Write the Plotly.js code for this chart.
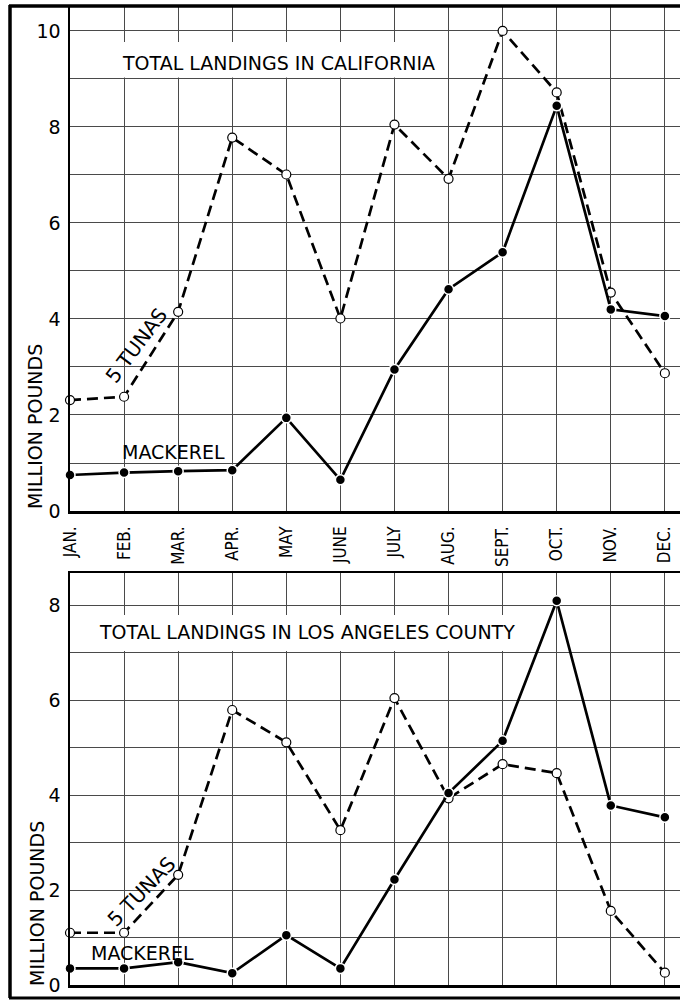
<!DOCTYPE html>
<html>
<head>
<meta charset="utf-8">
<script src="https://cdn.plot.ly/plotly-3.0.1.min.js"></script>
<style>html,body{margin:0;padding:0;background:#fff;}#chart{width:680px;height:1000px;}</style>
</head>
<body>
<div id="chart"></div>
<script>
// ---- data ----
const months = ['JAN.','FEB.','MAR.','APR.','MAY','JUNE','JULY','AUG.','SEPT.','OCT.','NOV.','DEC.'];
const caTunas    = [2.31, 2.38, 4.15, 7.78, 7.01, 4.01, 8.05, 6.92, 10.0, 8.72, 4.55, 2.87];
const caMackerel = [0.75, 0.80, 0.83, 0.85, 1.94, 0.65, 2.95, 4.62, 5.39, 8.44, 4.20, 4.06];
const laTunas    = [1.10, 1.10, 2.32, 5.79, 5.11, 3.26, 6.04, 3.93, 4.65, 4.46, 1.56, 0.26];
const laMackerel = [0.35, 0.35, 0.48, 0.25, 1.05, 0.35, 2.22, 4.04, 5.14, 8.09, 3.78, 3.53];
const topTickVals = [0,1,2,3,4,5,6,7,8,9,10];
const topTickText = ['0','','2','','4','','6','','8','','10'];
const botTickVals = [0,1,2,3,4,5,6,7,8];
const botTickText = ['0','','2','','4','','6','','8'];

const FONT = 'DejaVu Sans, Liberation Sans, sans-serif';
const NARROW = 'Liberation Sans Narrow, DejaVu Sans Condensed, Arial Narrow, sans-serif';
const GRID = '#4a4a4a';

function tunaTrace(y, xa, ya) {
  return {x: months, y: y, xaxis: xa, yaxis: ya, type: 'scatter', mode: 'lines+markers',
    cliponaxis: false, hoverinfo: 'skip',
    line: {color: '#000', width: 2.7, dash: '11px,6px'},
    marker: {symbol: 'circle', size: 9, color: '#fff', line: {color: '#000', width: 1.2}}};
}
function mackTrace(y, xa, ya) {
  return {x: months, y: y, xaxis: xa, yaxis: ya, type: 'scatter', mode: 'lines+markers',
    cliponaxis: false, hoverinfo: 'skip',
    line: {color: '#000', width: 2.7},
    marker: {symbol: 'circle', size: 10, color: '#000', line: {color: '#fff', width: 1.5}}};
}

const data = [
  tunaTrace(caTunas, 'x', 'y'),
  mackTrace(caMackerel, 'x', 'y'),
  tunaTrace(laTunas, 'x2', 'y2'),
  mackTrace(laMackerel, 'x2', 'y2')
];

const xBase = {
  type: 'category', domain: [70/680, 1], range: [0, 11.28],
  showgrid: true, gridcolor: GRID, gridwidth: 1,
  showline: true, linecolor: '#000', linewidth: 2.5,
  ticks: '', zeroline: false, fixedrange: true
};
const yBase = {
  showgrid: true, gridcolor: GRID, gridwidth: 1,
  showline: true, linecolor: '#000', linewidth: 2.5,
  ticks: '', zeroline: false, tickmode: 'array', ticklabelstandoff: 3,
  tickfont: {family: FONT, size: 19, color: '#000'}, fixedrange: true
};

const layout = {
  width: 680, height: 1000,
  margin: {l: 0, r: 0, t: 0, b: 0},
  paper_bgcolor: '#fff', plot_bgcolor: '#fff',
  showlegend: false,
  xaxis: Object.assign({}, xBase, {anchor: 'y', showticklabels: true, tickangle: -90,
    ticklabelstandoff: 6, tickfont: {family: NARROW, size: 17, color: '#000'}}),
  yaxis: Object.assign({}, yBase, {anchor: 'x', domain: [1 - 511/1000, 1 - 6/1000], range: [0, 10.52],
    tickvals: topTickVals, ticktext: topTickText}),
  xaxis2: Object.assign({}, xBase, {anchor: 'y2', showticklabels: false, mirror: true}),
  yaxis2: Object.assign({}, yBase, {anchor: 'x2', domain: [1 - 985/1000, 1 - 573/1000], range: [0, 8.674],
    tickvals: botTickVals, ticktext: botTickText}),
  shapes: [
    // white boxes behind the titles
    {type: 'rect', xref: 'x', yref: 'y', x0: 0.03, x1: 6.84, y0: 9.03, y1: 9.77,
     fillcolor: '#fff', line: {width: 0}, layer: 'between'},
    {type: 'rect', xref: 'x2', yref: 'y2', x0: 0.03, x1: 8.41, y0: 7.03, y1: 7.79,
     fillcolor: '#fff', line: {width: 0}, layer: 'between'},
    // outer frame
    {type: 'line', xref: 'paper', yref: 'paper', x0: 10/680, x1: 10/680, y0: 1 - 998/1000, y1: 1 - 5/1000,
     line: {color: '#000', width: 3.5}},
    {type: 'line', xref: 'paper', yref: 'paper', x0: 9/680, x1: 1, y0: 1 - 6/1000, y1: 1 - 6/1000,
     line: {color: '#000', width: 3.5}},
    {type: 'line', xref: 'paper', yref: 'paper', x0: 9/680, x1: 1, y0: 1 - 998/1000, y1: 1 - 998/1000,
     line: {color: '#000', width: 3}}
  ],
  annotations: [
    {text: 'TOTAL LANDINGS IN CALIFORNIA', xref: 'paper', yref: 'paper', x: 278.5/680, y: 1 - 63/1000,
     xanchor: 'center', yanchor: 'middle', showarrow: false, font: {family: FONT, size: 19, color: '#000'}},
    {text: 'TOTAL LANDINGS IN LOS ANGELES COUNTY', xref: 'paper', yref: 'paper', x: 307/680, y: 1 - 632/1000,
     xanchor: 'center', yanchor: 'middle', showarrow: false, font: {family: FONT, size: 19, color: '#000'}},
    {text: 'MILLION POUNDS', xref: 'paper', yref: 'paper', x: 35/680, y: 1 - 427/1000, textangle: -90,
     xanchor: 'center', yanchor: 'middle', showarrow: false, font: {family: FONT, size: 19, color: '#000'}},
    {text: 'MILLION POUNDS', xref: 'paper', yref: 'paper', x: 37/680, y: 1 - 904/1000, textangle: -90,
     xanchor: 'center', yanchor: 'middle', showarrow: false, font: {family: FONT, size: 19, color: '#000'}},
    {text: '5 TUNAS', xref: 'paper', yref: 'paper', x: 136/680, y: 1 - 346/1000, textangle: -53,
     xanchor: 'center', yanchor: 'middle', showarrow: false, font: {family: FONT, size: 20, color: '#000'}},
    {text: 'MACKEREL', xref: 'paper', yref: 'paper', x: 173/680, y: 1 - 452/1000,
     xanchor: 'center', yanchor: 'middle', showarrow: false, font: {family: FONT, size: 19, color: '#000'}},
    {text: '5 TUNAS', xref: 'paper', yref: 'paper', x: 141/680, y: 1 - 892/1000, textangle: -46,
     xanchor: 'center', yanchor: 'middle', showarrow: false, font: {family: FONT, size: 20, color: '#000'}},
    {text: 'MACKEREL', xref: 'paper', yref: 'paper', x: 142.5/680, y: 1 - 953/1000,
     xanchor: 'center', yanchor: 'middle', showarrow: false, font: {family: FONT, size: 19, color: '#000'}}
  ]
};

Plotly.newPlot('chart', data, layout, {staticPlot: true, displayModeBar: false});
</script>
</body>
</html>
